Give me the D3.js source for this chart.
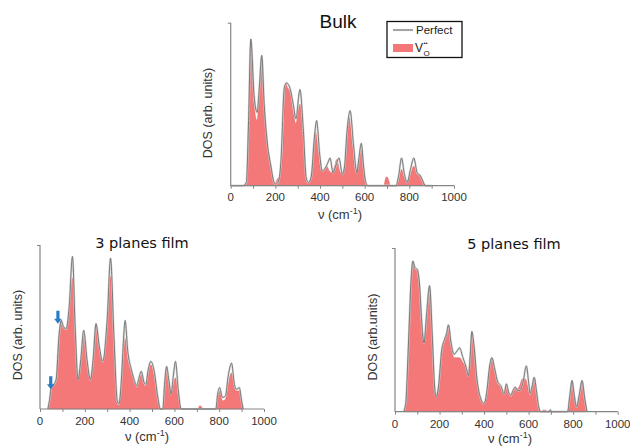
<!DOCTYPE html>
<html><head><meta charset="utf-8">
<script src="https://cdn.jsdelivr.net/npm/d3@7"></script>
<style>body{margin:0;background:#fff}svg{display:block}</style>
</head><body>
<svg id="c" width="630" height="446"></svg>
<script>
// ---- data (ν in cm^-1, DOS normalised to axis height) ----
const xTickLabels = [0, 200, 400, 600, 800, 1000];
const xMinorTicks = [0,100,200,300,400,500,600,700,800,900,1000];
const panelTitles = ["Bulk", "3 planes film", "5 planes film"];
const yLabels = ["DOS (arb. units)", "DOS (arb. units)", "DOS (arb.units)"];
const legendLabels = ["Perfect", "V"];

const bulkPerfect = [[0,0],[55,0],[70,0.02],[80,0.4],[90,0.90],[105,0.55],[118,0.45],[128,0.6],[139,0.80],[150,0.5],[165,0.25],[180,0.12],[192,0.03],[200,0.01],[212,0.02],[225,0.15],[240,0.6],[250,0.63],[265,0.60],[280,0.5],[292,0.41],[310,0.59],[325,0.35],[338,0.05],[348,0.02],[360,0.05],[375,0.3],[385,0.40],[398,0.2],[410,0.09],[420,0.10],[435,0.14],[445,0.17],[458,0.08],[470,0.12],[485,0.17],[500,0.07],[510,0.12],[520,0.32],[535,0.46],[550,0.25],[565,0.08],[575,0.18],[585,0.26],[595,0.12],[605,0.02],[615,0],[740,0],[752,0.06],[765,0.17],[778,0.07],[790,0.02],[805,0.10],[820,0.17],[835,0.08],[850,0.06],[860,0.03],[872,0],[900,0]];
const bulkVo = [[60,0],[72,0.03],[82,0.45],[90,0.90],[104,0.5],[118,0.40],[128,0.58],[139,0.79],[150,0.5],[165,0.25],[180,0.12],[190,0.04],[198,0.01],[208,0.04],[220,0.06],[232,0.2],[245,0.63],[255,0.6],[265,0.58],[280,0.45],[292,0.38],[310,0.50],[325,0.3],[340,0.02],[352,0.02],[365,0.1],[380,0.33],[393,0.2],[405,0.09],[418,0.1],[430,0.12],[442,0.09],[452,0.08],[465,0.12],[475,0.16],[488,0.09],[500,0.07],[512,0.12],[522,0.3],[530,0.42],[545,0.25],[560,0.08],[572,0.14],[585,0.22],[597,0.08],[606,0],[685,0],[695,0.05],[700,0.055],[708,0.03],[715,0],[745,0],[755,0.05],[765,0.10],[777,0.05],[790,0.02],[805,0.07],[820,0.12],[835,0.07],[850,0.06],[860,0.03],[870,0]];

const film3Perfect = [[35,0],[42,0.05],[50,0.13],[62,0.15],[72,0.18],[85,0.45],[95,0.54],[105,0.5],[117,0.49],[130,0.62],[145,0.93],[157,0.5],[170,0.18],[182,0.3],[195,0.48],[210,0.3],[225,0.18],[237,0.3],[250,0.52],[265,0.38],[280,0.29],[300,0.55],[315,0.92],[330,0.45],[345,0.05],[352,0.03],[362,0.15],[372,0.4],[380,0.54],[392,0.35],[408,0.24],[420,0.18],[432,0.14],[440,0.18],[452,0.23],[465,0.16],[472,0.15],[483,0.24],[495,0.29],[510,0.23],[525,0.08],[538,0],[548,0],[556,0.15],[565,0.26],[575,0.18],[585,0.09],[595,0.2],[605,0.29],[617,0.12],[630,0],[785,0],[793,0.09],[802,0.13],[815,0.07],[828,0.08],[840,0.2],[855,0.28],[868,0.15],[877,0.12],[890,0.13],[900,0.05],[907,0]];
const film3Vo = [[37,0],[44,0.06],[50,0.13],[62,0.15],[72,0.18],[85,0.45],[95,0.54],[105,0.5],[117,0.48],[130,0.58],[145,0.80],[157,0.45],[170,0.18],[182,0.28],[195,0.45],[210,0.28],[225,0.17],[237,0.3],[250,0.52],[265,0.37],[280,0.28],[300,0.5],[315,0.81],[330,0.4],[345,0.03],[352,0.02],[362,0.12],[372,0.32],[380,0.43],[392,0.3],[408,0.23],[420,0.17],[432,0.13],[440,0.16],[452,0.21],[465,0.15],[472,0.14],[483,0.22],[495,0.27],[510,0.2],[525,0.07],[537,0],[549,0],[557,0.15],[565,0.25],[577,0.16],[588,0.1],[597,0.16],[605,0.19],[617,0.08],[628,0],[705,0],[713,0.02],[720,0.015],[727,0],[785,0],[794,0.08],[802,0.11],[815,0.05],[828,0.06],[840,0.15],[855,0.22],[868,0.13],[877,0.11],[890,0.11],[900,0.04],[906,0]];

const film5Perfect = [[38,0],[48,0.05],[60,0.4],[72,0.8],[80,0.92],[90,0.88],[100,0.87],[110,0.78],[120,0.55],[130,0.42],[142,0.6],[155,0.77],[168,0.45],[178,0.15],[185,0.09],[195,0.15],[210,0.38],[222,0.44],[232,0.48],[240,0.53],[252,0.42],[265,0.35],[278,0.37],[290,0.39],[305,0.33],[320,0.27],[330,0.22],[338,0.35],[345,0.49],[355,0.4],[368,0.2],[385,0.08],[400,0.05],[412,0.12],[425,0.28],[435,0.33],[448,0.26],[462,0.18],[475,0.16],[490,0.11],[500,0.17],[510,0.12],[520,0.10],[530,0.13],[540,0.15],[550,0.13],[560,0.13],[575,0.18],[590,0.28],[600,0.18],[607,0.11],[615,0.15],[625,0.21],[635,0.13],[645,0.03],[655,0],[690,0],[697,0.012],[704,0],[775,0],[785,0.1],[795,0.19],[805,0.1],[815,0.03],[827,0.1],[840,0.19],[852,0.08],[862,0]];
const film5Vo = [[40,0],[50,0.05],[60,0.4],[72,0.8],[80,0.92],[90,0.87],[100,0.86],[110,0.78],[120,0.55],[130,0.42],[142,0.58],[155,0.76],[168,0.45],[178,0.15],[185,0.09],[195,0.15],[210,0.38],[222,0.44],[232,0.48],[240,0.53],[252,0.4],[265,0.33],[278,0.33],[290,0.33],[305,0.3],[320,0.27],[330,0.22],[338,0.35],[345,0.49],[355,0.4],[368,0.2],[385,0.08],[400,0.05],[412,0.12],[425,0.28],[435,0.33],[448,0.25],[462,0.17],[475,0.15],[490,0.11],[500,0.16],[510,0.12],[520,0.10],[530,0.13],[540,0.15],[550,0.14],[560,0.16],[572,0.2],[585,0.2],[595,0.16],[605,0.1],[615,0.15],[625,0.21],[635,0.13],[645,0.03],[655,0],[662,0.008],[675,0.01],[685,0],[775,0],[785,0.1],[795,0.19],[805,0.1],[815,0.03],[827,0.1],[840,0.19],[852,0.08],[862,0]];

// blue arrows in 3-planes panel (ν, DOS of arrow tip)
const arrowPoints = [[80,0.52],[48,0.12]];

// ---- drawing ----
const svg = d3.select("#c");
svg.append("rect").attr("width",630).attr("height",446).attr("fill","#fff");

const FILL = "#f57878", FILLEDGE = "#d65050", LINE = "#6e6e6e", HALO = "#d2d2d2", AXIS = "#858585";
const font = "'Liberation Sans', Arial, sans-serif";

const panels = [
  {x0:230.7, x1:454, yb:185.7, yt:22.7, perfect:bulkPerfect, vo:bulkVo, title:panelTitles[0], tx:338, ty:28, tfont:font, tsize:19,
   ylab:yLabels[0], ylx:208, yly:113, tickY:201, xlabX:340, xlabY:219},
  {x0:40, x1:264, yb:409, yt:245, perfect:film3Perfect, vo:film3Vo, title:panelTitles[1], tx:142, ty:248, tfont:"'DejaVu Sans', Verdana, sans-serif", tsize:14.5,
   ylab:yLabels[1], ylx:18, yly:335, tickY:425, xlabX:147, xlabY:441},
  {x0:395, x1:617.7, yb:411.7, yt:248, perfect:film5Perfect, vo:film5Vo, title:panelTitles[2], tx:514, ty:249, tfont:"'DejaVu Sans', Verdana, sans-serif", tsize:14.5,
   ylab:yLabels[2], ylx:373, yly:337, tickY:428, xlabX:510, xlabY:443}
];

panels.forEach((p, i) => {
  const x = d3.scaleLinear().domain([0,1000]).range([p.x0, p.x1]);
  const y = d3.scaleLinear().domain([0,1]).range([p.yb, p.yt]);
  const g = svg.append("g");

  const area = d3.area().x(d => x(d[0])).y0(y(0)).y1(d => y(d[1])).curve(d3.curveMonotoneX);
  const line = d3.line().x(d => x(d[0])).y(d => y(d[1])).curve(d3.curveMonotoneX);

  g.append("path").datum(p.vo).attr("d", area).attr("fill", FILL).attr("stroke", FILLEDGE).attr("stroke-width",0.7).attr("stroke-opacity",0.6);
  g.append("path").datum(p.perfect).attr("d", line).attr("fill","none").attr("stroke",HALO).attr("stroke-width",2.2).attr("stroke-opacity",0.8);
  g.append("path").datum(p.perfect).attr("d", line).attr("fill","none").attr("stroke",LINE).attr("stroke-width",0.9);

  // x axis
  const xa = g.append("g").attr("transform",`translate(0,${p.yb})`)
    .call(d3.axisBottom(x).tickValues(xMinorTicks).tickSize(3).tickFormat(""));
  xa.select(".domain").attr("stroke",AXIS).attr("stroke-width",1.2).attr("d",`M${p.x0},0H${p.x1}`);
  xa.selectAll(".tick line").attr("stroke",AXIS);
  g.selectAll("text.xt").data(xTickLabels).join("text").attr("class","xt")
    .attr("x", d => x(d)).attr("y", p.tickY).attr("text-anchor","middle")
    .attr("font-family", font).attr("font-size", 11.5).attr("fill","#333").text(d => d);

  // y axis
  const ya = g.append("g").attr("transform",`translate(${p.x0},0)`)
    .call(d3.axisLeft(y).tickValues([1]).tickSize(3).tickFormat(""));
  ya.select(".domain").attr("stroke",AXIS).attr("stroke-width",1.2).attr("d",`M0,${p.yb}V${p.yt}`);
  ya.selectAll(".tick line").attr("stroke",AXIS);

  // labels
  g.append("text").attr("transform",`translate(${p.ylx},${p.yly}) rotate(-90)`).attr("dy","0.35em")
    .attr("text-anchor","middle").attr("font-family",font).attr("font-size",12.5).attr("fill","#333").text(p.ylab);
  const xl = g.append("text").attr("x",p.xlabX).attr("y",p.xlabY).attr("text-anchor","middle")
    .attr("font-family",font).attr("font-size",13).attr("fill","#333");
  xl.append("tspan").text("ν (cm");
  xl.append("tspan").attr("dy",-5).attr("font-size",9).text("-1");
  xl.append("tspan").attr("dy",5).text(")");

  g.append("text").attr("x",p.tx).attr("y",p.ty).attr("text-anchor","middle")
    .attr("font-family",p.tfont).attr("font-size",p.tsize).attr("fill","#111").text(p.title);

  if (i === 1) {
    arrowPoints.forEach(a => {
      const ax = x(a[0]), ay = y(a[1]);
      g.append("path").attr("d",`M${ax-1.6},${ay-13}H${ax+1.6}V${ay-5}H${ax+3.8}L${ax},${ay}L${ax-3.8},${ay-5}H${ax-1.6}Z`)
        .attr("fill","#2a7cc4");
    });
  }
});

// legend
const lg = svg.append("g");
lg.append("rect").attr("x",387).attr("y",21.5).attr("width",75).attr("height",36).attr("fill","#fff").attr("stroke","#111").attr("stroke-width",1.3);
lg.append("line").attr("x1",393).attr("x2",413).attr("y1",30).attr("y2",30).attr("stroke",HALO).attr("stroke-width",2.2);
lg.append("line").attr("x1",393).attr("x2",413).attr("y1",30).attr("y2",30).attr("stroke",LINE).attr("stroke-width",0.9);
lg.append("text").attr("x",416).attr("y",34).attr("font-family",font).attr("font-size",11.5).attr("fill","#222").text(legendLabels[0]);
lg.append("rect").attr("x",393).attr("y",44).attr("width",20).attr("height",8).attr("fill",FILL);
lg.append("text").attr("x",415).attr("y",52).attr("font-family",font).attr("font-size",12).attr("fill","#222").text(legendLabels[1]);
lg.append("text").attr("x",423.5).attr("y",45).attr("font-family",font).attr("font-size",6).attr("fill","#222").text("••");
lg.append("text").attr("x",423.5).attr("y",56).attr("font-family",font).attr("font-size",8).attr("fill","#222").text("O");
</script>
</body></html>
